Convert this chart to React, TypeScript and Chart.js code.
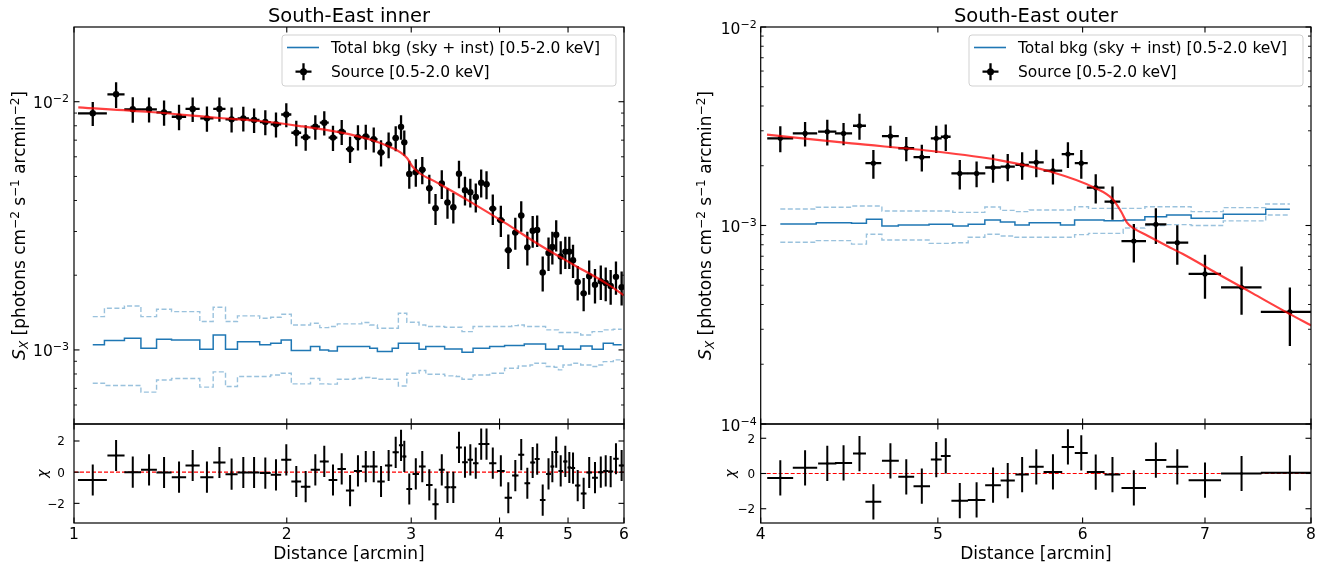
import React, { useEffect, useRef } from 'react';
import { Chart, registerables } from 'chart.js';
Chart.register(...registerables);

const FONT = "'DejaVu Sans', 'Noto Sans', sans-serif";
const BLUE = '#1f77b4';
const BLUE_DASH = 'rgba(31,119,180,0.45)';
const RED = 'rgba(255,0,0,0.75)';

// ---------------- South-East inner (left) ----------------
const leftX = [
  1.063, 1.147, 1.211, 1.277, 1.341, 1.408, 1.472, 1.542, 1.606, 1.671,
  1.736, 1.798, 1.865, 1.931, 1.997, 2.063, 2.127, 2.195, 2.260, 2.325,
  2.392, 2.458, 2.522, 2.587, 2.655, 2.719, 2.787, 2.852, 2.902, 2.933,
  2.981, 3.045, 3.110, 3.182, 3.247, 3.314, 3.376, 3.441, 3.505, 3.574,
  3.637, 3.702, 3.768, 3.834, 3.913, 4.017, 4.116, 4.211, 4.293, 4.379,
  4.456, 4.522, 4.604, 4.692, 4.751, 4.811, 4.882, 4.956, 5.021, 5.082,
  5.160, 5.261, 5.357, 5.459, 5.563, 5.653, 5.745, 5.845, 5.954,
];
const leftXErr = [
  0.050, 0.032, 0.033, 0.033, 0.033, 0.033, 0.034, 0.033, 0.032, 0.033,
  0.032, 0.032, 0.033, 0.033, 0.033, 0.033, 0.033, 0.033, 0.033, 0.033,
  0.033, 0.033, 0.033, 0.033, 0.033, 0.033, 0.033, 0.029, 0.020, 0.020,
  0.028, 0.032, 0.034, 0.034, 0.033, 0.032, 0.032, 0.032, 0.033, 0.033,
  0.032, 0.033, 0.033, 0.036, 0.046, 0.051, 0.049, 0.044, 0.042, 0.041,
  0.036, 0.037, 0.042, 0.037, 0.030, 0.033, 0.036, 0.035, 0.031, 0.035,
  0.045, 0.049, 0.049, 0.052, 0.048, 0.046, 0.048, 0.052, 0.055,
];
// surface brightness, units of 1e-3
const leftY = [
  8.98, 10.71, 9.32, 9.32, 9.06, 8.70, 9.35, 8.57, 9.35, 8.49,
  8.57, 8.44, 8.28, 8.11, 8.88, 7.50, 7.19, 7.93, 8.23, 7.17,
  7.57, 6.44, 7.20, 7.24, 7.06, 6.24, 6.72, 7.14, 7.92, 6.86,
  5.12, 5.20, 5.32, 4.48, 3.72, 4.68, 3.93, 3.76, 5.13, 4.40,
  4.32, 4.13, 4.72, 4.65, 3.71, 3.33, 2.52, 2.97, 3.48, 2.59,
  3.02, 3.04, 2.05, 2.46, 2.60, 2.91, 2.38, 2.49, 2.49, 2.30,
  1.88, 1.69, 1.98, 1.83, 1.89, 1.86, 1.81, 1.97, 1.79,
];
const leftYErr = [
  0.99, 1.28, 1.10, 1.08, 1.05, 1.02, 1.06, 1.00, 1.05, 0.98,
  0.98, 0.96, 0.95, 0.93, 0.98, 0.88, 0.85, 0.90, 0.92, 0.84,
  0.87, 0.78, 0.84, 0.83, 0.82, 0.76, 0.80, 0.83, 0.90, 0.80,
  0.66, 0.66, 0.67, 0.60, 0.53, 0.62, 0.55, 0.53, 0.65, 0.58,
  0.57, 0.55, 0.61, 0.60, 0.52, 0.48, 0.40, 0.44, 0.49, 0.40,
  0.44, 0.44, 0.33, 0.38, 0.39, 0.42, 0.36, 0.37, 0.37, 0.35,
  0.30, 0.26, 0.31, 0.29, 0.30, 0.29, 0.29, 0.30, 0.28,
];
const leftChi = [
  -0.50, 1.07, 0.00, 0.15, -0.02, -0.32, 0.43, -0.32, 0.62, -0.13,
  -0.02, -0.02, -0.06, -0.17, 0.79, -0.60, -0.93, 0.15, 0.69, -0.50,
  0.21, -1.18, 0.08, 0.36, 0.36, -0.60, 0.43, 1.27, 1.72, 1.01,
  -1.08, -0.11, 0.36, -0.82, -2.05, 0.15, -0.97, -0.97, 1.59, 0.64,
  0.79, 0.58, 1.80, 1.80, 0.58, 0.08, -1.64, -0.22, 1.12, -0.71,
  0.62, 0.84, -1.79, -0.11, 0.36, 1.29, 0.08, 0.69, 0.30, 0.26,
  -0.86, -1.36, -0.02, -0.35, 0.00, 0.08, 0.04, 0.86, 0.43,
];
const leftBkg = [
  1.048, 1.091, 1.114, 1.016, 1.104, 1.097, 1.097, 1.006, 1.149, 1.006,
  1.080, 1.080, 1.048, 1.064, 1.097, 0.994, 0.994, 1.032, 1.000, 0.991,
  1.032, 1.032, 1.032, 1.032, 1.016, 0.985, 0.985, 1.016, 1.064, 1.064,
  1.064, 1.064, 1.006, 1.032, 1.032, 1.032, 1.009, 1.009, 1.009, 0.979,
  0.979, 1.016, 1.016, 1.016, 1.032, 1.032, 1.041, 1.041, 1.041, 1.057,
  1.057, 1.057, 1.057, 1.006, 1.006, 1.006, 1.038, 1.006, 1.006, 1.006,
  1.006, 1.038, 1.038, 1.006, 1.006, 1.064, 1.064, 1.048, 1.048,
];
const leftBkgHi = [
  1.362, 1.472, 1.504, 1.362, 1.458, 1.427, 1.427, 1.301, 1.486, 1.301,
  1.371, 1.371, 1.342, 1.354, 1.392, 1.261, 1.261, 1.281, 1.230, 1.242,
  1.273, 1.273, 1.273, 1.289, 1.261, 1.223, 1.223, 1.223, 1.405, 1.405,
  1.293, 1.293, 1.261, 1.242, 1.242, 1.242, 1.234, 1.234, 1.234, 1.185,
  1.185, 1.242, 1.242, 1.242, 1.242, 1.242, 1.242, 1.253, 1.261, 1.242,
  1.242, 1.242, 1.242, 1.204, 1.204, 1.204, 1.175, 1.175, 1.175, 1.175,
  1.175, 1.149, 1.149, 1.185, 1.185, 1.204, 1.204, 1.211, 1.211,
];
const leftBkgLo = [
  0.734, 0.719, 0.719, 0.676, 0.757, 0.767, 0.767, 0.708, 0.816, 0.712,
  0.781, 0.781, 0.781, 0.793, 0.806, 0.730, 0.730, 0.767, 0.730, 0.728,
  0.762, 0.762, 0.767, 0.774, 0.769, 0.762, 0.762, 0.762, 0.716, 0.716,
  0.806, 0.806, 0.826, 0.798, 0.798, 0.798, 0.786, 0.786, 0.781, 0.762,
  0.762, 0.793, 0.793, 0.793, 0.806, 0.806, 0.844, 0.844, 0.862, 0.862,
  0.870, 0.884, 0.884, 0.857, 0.857, 0.852, 0.831, 0.870, 0.870, 0.884,
  0.884, 0.870, 0.870, 0.857, 0.870, 0.897, 0.897, 0.912, 0.912,
];
const leftModelX = [1.014, 1.281, 1.609, 1.833, 2.088, 2.379, 2.623, 2.800, 2.892, 2.959, 3.008, 3.067, 3.263, 3.633, 4.072, 4.564, 5.082, 5.671, 6.0];
const leftModelY = [9.49, 9.09, 8.60, 8.36, 7.98, 7.52, 7.04, 6.57, 6.27, 5.93, 5.51, 5.21, 4.72, 3.96, 3.25, 2.64, 2.21, 1.85, 1.66];

// ---------------- South-East outer (right) ----------------
const rightX = [4.10, 4.23, 4.35, 4.44, 4.53, 4.61, 4.71, 4.805, 4.90, 4.99, 5.05, 5.14, 5.25, 5.36, 5.46, 5.56, 5.66, 5.78, 5.89, 5.99, 6.10, 6.23, 6.40, 6.58, 6.76, 7.00, 7.33, 7.79];
const rightXErr = [0.067, 0.065, 0.050, 0.048, 0.037, 0.046, 0.050, 0.048, 0.051, 0.034, 0.031, 0.054, 0.058, 0.053, 0.049, 0.047, 0.053, 0.068, 0.046, 0.049, 0.068, 0.062, 0.099, 0.088, 0.094, 0.143, 0.187, 0.280];
const rightY = [2.75, 2.91, 2.97, 2.91, 3.18, 2.06, 2.82, 2.45, 2.21, 2.75, 2.80, 1.83, 1.83, 1.96, 1.98, 2.02, 2.08, 1.89, 2.29, 2.06, 1.55, 1.32, 0.835, 1.014, 0.819, 0.570, 0.488, 0.367];
const rightYErr = [0.41, 0.41, 0.44, 0.37, 0.48, 0.34, 0.36, 0.34, 0.34, 0.43, 0.43, 0.31, 0.27, 0.32, 0.31, 0.32, 0.33, 0.28, 0.34, 0.34, 0.26, 0.25, 0.184, 0.208, 0.184, 0.143, 0.133, 0.120];
const rightChi = [-0.25, 0.32, 0.57, 0.60, 1.13, -1.61, 0.72, -0.19, -0.72, 0.79, 1.00, -1.54, -1.50, -0.66, -0.40, -0.06, 0.38, 0.09, 1.51, 1.17, 0.08, -0.06, -0.82, 0.76, 0.38, -0.38, 0.00, 0.04];
const rightBkg = [1.018, 1.018, 1.033, 1.033, 1.025, 1.074, 0.994, 1.006, 1.006, 1.014, 1.014, 0.994, 1.014, 1.066, 1.040, 1.006, 1.033, 1.033, 1.006, 1.066, 1.066, 1.057, 1.066, 1.108, 1.130, 1.087, 1.139, 1.206];
const rightBkgHi = [1.211, 1.211, 1.235, 1.235, 1.254, 1.254, 1.183, 1.183, 1.183, 1.183, 1.183, 1.165, 1.165, 1.240, 1.192, 1.174, 1.197, 1.197, 1.197, 1.244, 1.220, 1.220, 1.220, 1.244, 1.244, 1.175, 1.230, 1.283];
const rightBkgLo = [0.823, 0.823, 0.839, 0.839, 0.806, 0.903, 0.845, 0.845, 0.845, 0.813, 0.813, 0.819, 0.872, 0.903, 0.886, 0.872, 0.872, 0.872, 0.872, 0.900, 0.913, 0.913, 0.972, 1.000, 1.010, 1.000, 1.055, 1.130];
const rightModelX = [4.032, 4.485, 4.988, 5.407, 5.759, 6.09, 6.23, 6.30, 6.345, 6.396, 6.508, 6.67, 6.804, 7.104, 7.434, 7.772, 8.005];
const rightModelY = [2.868, 2.59, 2.36, 2.13, 1.87, 1.55, 1.36, 1.17, 1.033, 0.97, 0.89, 0.79, 0.72, 0.575, 0.455, 0.362, 0.313];

// ---------------- axes / text ----------------
const leftXTicks = [1, 2, 3, 4, 5, 6];
const rightXTicks = [4, 5, 6, 7, 8];
const leftYTicks = [1e-3, 1e-2];
const rightYTicks = [1e-4, 1e-3, 1e-2];
const chiTicks = [-2, 0, 2];
const chiErr = 1;
const titles = ['South-East inner', 'South-East outer'];
const legendLabels = ['Total bkg (sky + inst) [0.5-2.0 keV]', 'Source [0.5-2.0 keV]'];
const xTitle = 'Distance [arcmin]';
const chiTitle = 'χ';

type Seg = { t: string; size: number; italic?: boolean; dy?: number };
const yTitleSegs: Seg[] = [
  { t: 'S', size: 17, italic: true },
  { t: 'X', size: 12, italic: true, dy: 2.6 },
  { t: ' [photons cm', size: 17 },
  { t: '−2', size: 12, dy: -6.5 },
  { t: ' s', size: 17 },
  { t: '−1', size: 12, dy: -6.5 },
  { t: ' arcmin', size: 17 },
  { t: '−2', size: 12, dy: -6.5 },
  { t: ']', size: 17 },
];

function segFont(s: Seg) {
  return `${s.italic ? 'italic ' : ''}${s.size}px ${FONT}`;
}
function drawRich(ctx: CanvasRenderingContext2D, segs: Seg[], x: number, y: number, align: 'left' | 'center' | 'right') {
  let w = 0;
  const ws = segs.map((s) => {
    ctx.font = segFont(s);
    const m = ctx.measureText(s.t).width;
    w += m;
    return m;
  });
  let cx = align === 'left' ? x : align === 'center' ? x - w / 2 : x - w;
  ctx.textAlign = 'left';
  ctx.textBaseline = 'alphabetic';
  segs.forEach((s, i) => {
    ctx.font = segFont(s);
    ctx.fillText(s.t, cx, y + (s.dy || 0));
    cx += ws[i];
  });
}
function powSegs(v: number): Seg[] {
  const e = Math.round(Math.log10(v));
  return [
    { t: '10', size: 15.5 },
    { t: e < 0 ? '−' + -e : String(e), size: 11, dy: -6 },
  ];
}
function logMinor(min: number, max: number) {
  const out: number[] = [];
  for (let d = Math.floor(Math.log10(min)); d <= Math.ceil(Math.log10(max)); d++) {
    for (let k = 2; k <= 9; k++) {
      const v = k * Math.pow(10, d);
      if (v > min * 1.0001 && v < max * 0.9999) out.push(v);
    }
  }
  return out;
}
const pts = (xs: number[], ys: number[], s = 1) => xs.map((x, i) => ({ x, y: ys[i] * s }));

function drawLegend(ctx: CanvasRenderingContext2D, a: any) {
  const w = 334, h = 51;
  const x = a.right - 8 - w, y = a.top + 8;
  ctx.save();
  ctx.beginPath();
  (ctx as any).roundRect(x, y, w, h, 3);
  ctx.fillStyle = 'rgba(255,255,255,0.8)';
  ctx.fill();
  ctx.strokeStyle = 'rgba(204,204,204,0.9)';
  ctx.lineWidth = 1;
  ctx.stroke();
  ctx.strokeStyle = BLUE;
  ctx.lineWidth = 1.6;
  ctx.beginPath();
  ctx.moveTo(x + 5, y + 12.5);
  ctx.lineTo(x + 37, y + 12.5);
  ctx.stroke();
  const mx = x + 21.5, my = y + 36.7;
  ctx.strokeStyle = '#000';
  ctx.lineWidth = 2.3;
  ctx.beginPath();
  ctx.moveTo(mx - 8, my);
  ctx.lineTo(mx + 8, my);
  ctx.moveTo(mx, my - 8.5);
  ctx.lineTo(mx, my + 8.5);
  ctx.stroke();
  ctx.fillStyle = '#000';
  ctx.beginPath();
  ctx.arc(mx, my, 3.5, 0, Math.PI * 2);
  ctx.fill();
  ctx.font = `15.5px ${FONT}`;
  ctx.textAlign = 'left';
  ctx.textBaseline = 'alphabetic';
  ctx.fillText(legendLabels[0], x + 49, y + 18);
  ctx.fillText(legendLabels[1], x + 49, y + 42.2);
  ctx.restore();
}

interface PanelSpec {
  box: { left: number; top: number; width: number; height: number };
  pad: { left: number; top: number; right: number; bottom: number };
  xMin: number; xMax: number; xTicks: number[]; xLabels: boolean;
  yLog: boolean; yMin: number; yMax: number; yTicks: number[]; yMinor: number[]; yGap: number;
  datasets: any[];
  errIndex: number;
  xe: number[]; ye: number[] | number; elw: number;
  decorate: (ctx: CanvasRenderingContext2D, chart: any) => void;
}

function mainDatasets(x: number[], y: number[], bkg: number[], hi: number[], lo: number[], mx: number[], my: number[], r: number) {
  return [
    { type: 'line', data: pts(x, hi, 1e-3), borderColor: BLUE_DASH, borderWidth: 1.4, borderDash: [5, 2.5], stepped: 'middle', pointRadius: 0, order: 4 },
    { type: 'line', data: pts(x, lo, 1e-3), borderColor: BLUE_DASH, borderWidth: 1.4, borderDash: [5, 2.5], stepped: 'middle', pointRadius: 0, order: 4 },
    { type: 'line', data: pts(x, bkg, 1e-3), borderColor: BLUE, borderWidth: 1.5, stepped: 'middle', pointRadius: 0, order: 3 },
    { type: 'scatter', data: pts(x, y, 1e-3), pointRadius: r, backgroundColor: '#000', borderWidth: 0, order: 1 },
    { type: 'line', data: pts(mx, my, 1e-3), borderColor: RED, borderWidth: 2.2, cubicInterpolationMode: 'monotone', pointRadius: 0, order: 0 },
  ];
}
function residDatasets(x: number[], chi: number[], xMin: number, xMax: number) {
  return [
    { type: 'line', data: [{ x: xMin, y: 0 }, { x: xMax, y: 0 }], borderColor: '#ff0000', borderWidth: 1.1, borderDash: [4, 2], pointRadius: 0, order: 2 },
    { type: 'scatter', data: pts(x, chi), pointRadius: 1.3, backgroundColor: '#000', borderWidth: 0, order: 1 },
  ];
}

function mainDecor(title: string, yTitleX: number) {
  return (ctx: CanvasRenderingContext2D, chart: any) => {
    const a = chart.chartArea;
    ctx.fillStyle = '#000';
    ctx.font = `19.5px ${FONT}`;
    ctx.textAlign = 'center';
    ctx.textBaseline = 'alphabetic';
    ctx.fillText(title, (a.left + a.right) / 2, 21.5);
    ctx.save();
    ctx.translate(yTitleX, (a.top + a.bottom) / 2);
    ctx.rotate(-Math.PI / 2);
    drawRich(ctx, yTitleSegs, 0, 0, 'center');
    ctx.restore();
    drawLegend(ctx, a);
  };
}
function residDecor(chiX: number) {
  return (ctx: CanvasRenderingContext2D, chart: any) => {
    const a = chart.chartArea;
    ctx.fillStyle = '#000';
    ctx.font = `17px ${FONT}`;
    ctx.textAlign = 'center';
    ctx.textBaseline = 'alphabetic';
    ctx.fillText(xTitle, (a.left + a.right) / 2, a.bottom + 36);
    ctx.save();
    ctx.translate(chiX, (a.top + a.bottom) / 2);
    ctx.rotate(-Math.PI / 2);
    ctx.font = `italic 14px ${FONT}`;
    ctx.textAlign = 'center';
    ctx.textBaseline = 'middle';
    ctx.fillText(chiTitle, 0, 0);
    ctx.restore();
  };
}

const LMIN = 5.03e-4, LMAX = 2.0e-2, RMIN = 1e-4, RMAX = 1e-2;

const SPECS: PanelSpec[] = [
  {
    box: { left: 0, top: 0, width: 660, height: 440 },
    pad: { left: 74, top: 27, right: 36, bottom: 16 },
    xMin: 1, xMax: 6, xTicks: leftXTicks, xLabels: false,
    yLog: true, yMin: LMIN, yMax: LMAX, yTicks: leftYTicks, yMinor: logMinor(LMIN, LMAX), yGap: 5,
    datasets: mainDatasets(leftX, leftY, leftBkg, leftBkgHi, leftBkgLo, leftModelX, leftModelY, 3.2),
    errIndex: 3, xe: leftXErr, ye: leftYErr.map((v) => v * 1e-3), elw: 2.3,
    decorate: mainDecor(titles[0], 25),
  },
  {
    box: { left: 0, top: 414, width: 660, height: 156 },
    pad: { left: 74, top: 10, right: 36, bottom: 47 },
    xMin: 1, xMax: 6, xTicks: leftXTicks, xLabels: true,
    yLog: false, yMin: -3.26, yMax: 3.09, yTicks: chiTicks, yMinor: [], yGap: 9,
    datasets: residDatasets(leftX, leftChi, 1, 6),
    errIndex: 1, xe: leftXErr, ye: chiErr, elw: 2.0,
    decorate: residDecor(43),
  },
  {
    box: { left: 680, top: 0, width: 652, height: 440 },
    pad: { left: 80.7, top: 27, right: 21, bottom: 16 },
    xMin: 4, xMax: 8, xTicks: rightXTicks, xLabels: false,
    yLog: true, yMin: RMIN, yMax: RMAX, yTicks: rightYTicks, yMinor: logMinor(RMIN, RMAX), yGap: 4,
    datasets: mainDatasets(rightX, rightY, rightBkg, rightBkgHi, rightBkgLo, rightModelX, rightModelY, 2.6),
    errIndex: 3, xe: rightXErr, ye: rightYErr.map((v) => v * 1e-3), elw: 2.3,
    decorate: mainDecor(titles[1], 31),
  },
  {
    box: { left: 680, top: 414, width: 652, height: 156 },
    pad: { left: 80.7, top: 10, right: 21, bottom: 47 },
    xMin: 4, xMax: 8, xTicks: rightXTicks, xLabels: true,
    yLog: false, yMin: -2.81, yMax: 2.81, yTicks: chiTicks, yMinor: [], yGap: 5.5,
    datasets: residDatasets(rightX, rightChi, 4, 8),
    errIndex: 1, xe: rightXErr, ye: chiErr, elw: 2.0,
    decorate: residDecor(51),
  },
];

function decorPlugin(spec: PanelSpec) {
  return {
    id: 'decor',
    beforeDatasetDraw(chart: any, args: any) {
      if (args.index !== spec.errIndex) return;
      const ctx: CanvasRenderingContext2D = chart.ctx;
      const xs = chart.scales.x, ys = chart.scales.y, a = chart.chartArea;
      ctx.save();
      ctx.beginPath();
      ctx.rect(a.left, a.top, a.right - a.left, a.bottom - a.top);
      ctx.clip();
      ctx.strokeStyle = '#000';
      ctx.lineWidth = spec.elw;
      ctx.lineCap = 'butt';
      const data = chart.data.datasets[spec.errIndex].data;
      data.forEach((p: any, i: number) => {
        const xe = spec.xe[i];
        const ye = typeof spec.ye === 'number' ? spec.ye : spec.ye[i];
        const px = xs.getPixelForValue(p.x), py = ys.getPixelForValue(p.y);
        ctx.beginPath();
        ctx.moveTo(xs.getPixelForValue(p.x - xe), py);
        ctx.lineTo(xs.getPixelForValue(p.x + xe), py);
        ctx.moveTo(px, ys.getPixelForValue(p.y - ye));
        ctx.lineTo(px, ys.getPixelForValue(p.y + ye));
        ctx.stroke();
      });
      ctx.restore();
    },
    afterDraw(chart: any) {
      const ctx: CanvasRenderingContext2D = chart.ctx;
      const xs = chart.scales.x, ys = chart.scales.y, a = chart.chartArea;
      ctx.save();
      ctx.strokeStyle = '#000';
      ctx.fillStyle = '#000';
      ctx.lineWidth = 1.2;
      ctx.strokeRect(a.left, a.top, a.right - a.left, a.bottom - a.top);
      const seg = (x1: number, y1: number, x2: number, y2: number) => {
        ctx.beginPath();
        ctx.moveTo(x1, y1);
        ctx.lineTo(x2, y2);
        ctx.stroke();
      };
      ctx.lineWidth = 1.1;
      spec.xTicks.forEach((v) => {
        const px = xs.getPixelForValue(v);
        seg(px, a.bottom, px, a.bottom - 5.5);
        seg(px, a.top, px, a.top + 5.5);
      });
      spec.yTicks.forEach((v) => {
        const py = ys.getPixelForValue(v);
        seg(a.left, py, a.left + 5.5, py);
        seg(a.right, py, a.right - 5.5, py);
      });
      ctx.lineWidth = 0.9;
      spec.yMinor.forEach((v) => {
        const py = ys.getPixelForValue(v);
        seg(a.left, py, a.left + 3, py);
        seg(a.right, py, a.right - 3, py);
      });
      if (spec.xLabels) {
        ctx.font = `15.5px ${FONT}`;
        ctx.textAlign = 'center';
        ctx.textBaseline = 'alphabetic';
        spec.xTicks.forEach((v) => ctx.fillText(String(v), xs.getPixelForValue(v), a.bottom + 15.5));
      }
      spec.yTicks.forEach((v) => {
        const py = ys.getPixelForValue(v);
        if (spec.yLog) {
          drawRich(ctx, powSegs(v), a.left - spec.yGap, py + 6.5, 'right');
        } else {
          ctx.font = `12px ${FONT}`;
          ctx.textAlign = 'right';
          ctx.textBaseline = 'alphabetic';
          ctx.fillText(v < 0 ? '−' + -v : String(v), a.left - spec.yGap, py + 4.4);
        }
      });
      spec.decorate(ctx, chart);
      ctx.restore();
    },
  };
}

function buildChart(canvas: HTMLCanvasElement, spec: PanelSpec) {
  const fix = (min: number, max: number) => (scale: any) => {
    scale.min = min;
    scale.max = max;
  };
  return new Chart(canvas, {
    type: 'scatter',
    data: { datasets: spec.datasets as any },
    options: {
      animation: false,
      responsive: false,
      maintainAspectRatio: false,
      devicePixelRatio: 1,
      events: [],
      layout: { padding: spec.pad },
      plugins: { legend: { display: false }, tooltip: { enabled: false }, title: { display: false } },
      scales: {
        x: { type: 'logarithmic', min: spec.xMin, max: spec.xMax, display: false, afterBuildTicks: fix(spec.xMin, spec.xMax) },
        y: { type: spec.yLog ? 'logarithmic' : 'linear', min: spec.yMin, max: spec.yMax, display: false, afterBuildTicks: fix(spec.yMin, spec.yMax) },
      },
    } as any,
    plugins: [decorPlugin(spec) as any],
  });
}

function Panel({ spec }: { spec: PanelSpec }) {
  const ref = useRef<HTMLCanvasElement>(null);
  useEffect(() => {
    if (!ref.current) return;
    const chart = buildChart(ref.current, spec);
    return () => chart.destroy();
  }, [spec]);
  const b = spec.box;
  return (
    <canvas
      ref={ref}
      width={b.width}
      height={b.height}
      style={{ position: 'absolute', left: b.left, top: b.top, width: b.width, height: b.height }}
    />
  );
}

export default function App() {
  return (
    <div style={{ position: 'absolute', left: 0, top: 0, width: 1332, height: 570, background: '#fff', overflow: 'hidden' }}>
      {SPECS.map((s, i) => (
        <Panel key={i} spec={s} />
      ))}
    </div>
  );
}
